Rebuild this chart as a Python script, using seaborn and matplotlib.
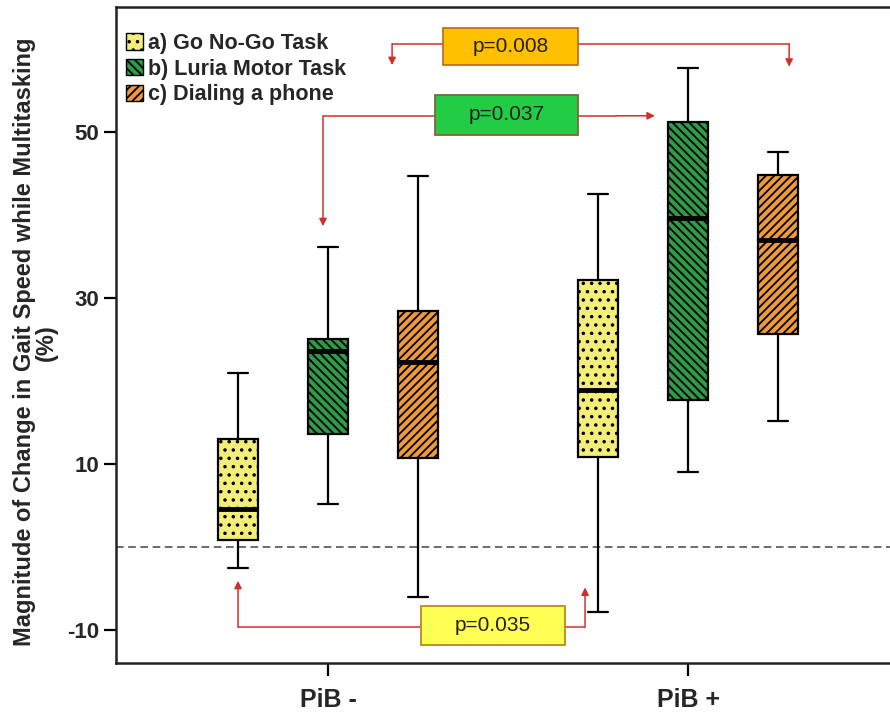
import numpy as np
import pandas as pd
import seaborn as sns
import matplotlib.pyplot as plt
import matplotlib.colors as mcolors
from matplotlib.patches import Patch, Rectangle

# ---------------- data ----------------
groups = ["PiB -", "PiB +"]
tasks = ["a) Go No-Go Task", "b) Luria Motor Task", "c) Dialing a phone"]
# five-number summaries [min, Q1, median, Q3, max] (%)
go_nogo_neg = [-2.6, 0.8, 4.5, 13.0, 20.9]
luria_neg = [5.2, 13.6, 23.6, 25.0, 36.1]
dialing_neg = [-6.1, 10.7, 22.2, 28.4, 44.6]
go_nogo_pos = [-7.9, 10.8, 18.9, 32.1, 42.5]
luria_pos = [9.0, 17.7, 39.6, 51.1, 57.7]
dialing_pos = [15.1, 25.6, 37.0, 44.8, 47.5]
yticks = [-10, 10, 30, 50]
pvals = ["p=0.008", "p=0.037", "p=0.035"]

colors = ["#F3EE78", "#2F9B47", "#EE9A3A"]
hatches = ["..", "\\\\\\\\", "////"]

rows = []
for g, series in zip(groups, [[go_nogo_neg, luria_neg, dialing_neg],
                              [go_nogo_pos, luria_pos, dialing_pos]]):
    for t, vals in zip(tasks, series):
        for v in vals:
            rows.append({"group": g, "task": t, "value": v})
df = pd.DataFrame(rows)

# ---------------- figure ----------------
sns.set_style("white")
plt.rcParams["font.family"] = ["Liberation Sans", "DejaVu Sans"]
plt.rcParams["hatch.linewidth"] = 1.3

fig = plt.figure(figsize=(8.9, 7.12), dpi=100)
ax = fig.add_axes([116 / 890, 49 / 712, 779 / 890, 656 / 712])

sns.boxplot(data=df, x="group", y="value", hue="task", order=groups,
            hue_order=tasks, palette=colors, saturation=1, width=0.75,
            gap=0.55, whis=np.inf, linecolor="black", linewidth=1.6,
            medianprops={"linewidth": 3.5, "color": "black"},
            legend=False, ax=ax)

rgb_list = [np.array(mcolors.to_rgb(c)) for c in colors]
for p in ax.patches:
    fc = np.array(p.get_facecolor()[:3])
    idx = int(np.argmin([np.sum((fc - c) ** 2) for c in rgb_list]))
    p.set_hatch(hatches[idx])
    p.set_edgecolor("black")

ax.axhline(0, color="#444444", linestyle=(0, (5, 3)), linewidth=1.1, zorder=1)

ax.set_xlim(-0.589, 1.575)
ax.set_ylim(-14, 65)
ax.set_yticks(yticks)
ax.set_yticklabels([str(t) for t in yticks], fontsize=16, fontweight="bold")
ax.set_xticks([0, 1])
ax.set_xticklabels(groups, fontsize=18, fontweight="bold")
ax.set_xlabel("")
ax.set_ylabel("Magnitude of Change in Gait Speed while Multitasking\n(%)",
              fontsize=17, fontweight="bold", linespacing=0.95)
ax.yaxis.set_label_coords(-0.074, 0.489)
ax.tick_params(axis="both", direction="out", length=9, width=1.6,
               color="black", left=True, bottom=True)
ax.tick_params(axis="x", pad=9)
ax.tick_params(axis="y", pad=3)
for s in ax.spines.values():
    s.set_linewidth(1.8)
    s.set_color("#222222")

handles = [Patch(facecolor=c, edgecolor="black", hatch=h, linewidth=1)
           for c, h in zip(colors, hatches)]
leg = ax.legend(handles, tasks, loc="upper left", bbox_to_anchor=(-0.012, 0.99),
                frameon=False, handlelength=0.8, handleheight=0.8,
                handletextpad=0.2, labelspacing=0.22,
                prop={"size": 15.5, "weight": "bold"})

# ---------------- significance annotations ----------------
red = "#D0302C"
arrow = dict(arrowstyle="-|>", color=red, lw=1.1, mutation_scale=11,
             shrinkA=0, shrinkB=0)

def bracket(start, corner, tip):
    ax.plot([start[0], corner[0]], [start[1], corner[1]], color=red,
            lw=1.1, zorder=5, solid_capstyle="butt")
    ax.annotate("", xy=tip, xytext=corner, arrowprops=arrow, zorder=5)

def pbox(x0, y0, w, h, txt, fc, ec):
    ax.add_patch(Rectangle((x0, y0), w, h, facecolor=fc, edgecolor=ec,
                           linewidth=1.3, zorder=6))
    ax.text(x0 + w / 2, y0 + h / 2, txt, ha="center", va="center",
            fontsize=15, color="#222222", zorder=7)

# p = 0.008
bracket((0.319, 60.6), (0.178, 60.6), (0.178, 58.0))
bracket((0.694, 60.6), (1.281, 60.6), (1.281, 57.8))
pbox(0.319, 58.0, 0.375, 4.5, pvals[0], "#FFC000", "#B8741A")

# p = 0.037
bracket((0.297, 51.9), (-0.014, 51.9), (-0.014, 38.6))
ax.plot([0.694, 0.80], [51.9, 51.9], color=red, lw=1.1, zorder=5)
ax.annotate("", xy=(0.908, 51.9), xytext=(0.80, 51.9), arrowprops=arrow, zorder=5)
pbox(0.297, 49.6, 0.397, 4.8, pvals[1], "#22CC44", "#7A6A3A")

# p = 0.035
bracket((0.258, -9.7), (-0.25, -9.7), (-0.25, -4.1))
bracket((0.658, -9.7), (0.714, -9.7), (0.714, -4.9))
pbox(0.258, -11.85, 0.4, 4.75, pvals[2], "#FFFF55", "#B88A1A")

fig.savefig("out.png", dpi=100)
